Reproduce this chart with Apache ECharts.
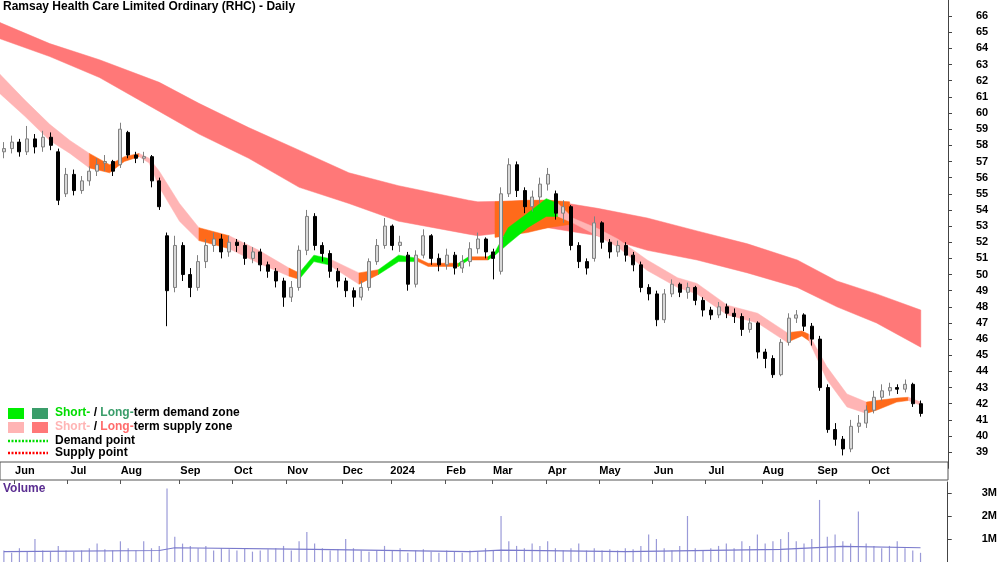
<!DOCTYPE html>
<html>
<head>
<meta charset="utf-8">
<script src="https://cdn.jsdelivr.net/npm/echarts@6/dist/echarts.min.js"></script>
<style>html,body{margin:0;padding:0;background:#fff}#main{width:1000px;height:562px}</style>
</head>
<body>
<div id="main"></div>
<script>
// daily candles sampled, [open, close, low, high]
var candles = [
 [57.6,57.8,57.2,58.2],[57.8,58.2,57.5,58.6],[58.2,57.6,57.3,58.4],[57.6,58.4,57.4,59.2],[58.4,57.9,57.5,58.7],
 [57.9,58.5,57.6,58.9],[58.5,58.0,57.7,58.8],[57.6,54.6,54.3,57.8],[55.0,56.2,54.8,56.6],[56.2,55.2,54.9,56.5],
 [55.2,55.8,55.0,56.1],[55.8,56.4,55.5,56.7],[56.4,56.8,56.1,57.2],[56.9,57.0,56.4,57.4],[57.0,56.4,56.1,57.1],
 [56.8,59.0,56.6,59.4],[58.8,57.4,57.2,58.9],[57.4,57.2,56.9,57.6],[57.2,57.3,56.9,57.6],[57.3,55.8,55.4,57.4],
 [55.8,54.2,54.0,56.0],[52.4,49.0,46.8,52.6],[49.2,51.8,48.9,52.4],[51.8,50.0,49.6,52.0],[50.0,49.2,48.6,50.4],
 [49.2,50.8,49.0,51.2],[50.8,51.8,50.4,52.2],[51.8,52.2,51.4,52.6],[52.2,51.4,51.0,52.5],[51.4,52.0,51.1,52.4],
 [52.0,51.8,51.4,52.2],[51.8,51.0,50.6,52.0],[51.0,51.4,50.7,51.7],[51.4,50.6,50.2,51.6],[50.6,50.2,49.8,50.8],
 [50.2,49.6,49.2,50.4],[49.6,48.6,48.0,49.8],[48.6,49.2,48.3,49.6],[49.2,51.5,49.0,51.8],[51.5,53.6,51.2,54.0],
 [53.6,51.8,51.5,53.8],[51.8,51.3,50.8,52.0],[51.3,50.2,49.8,51.5],[50.2,49.6,49.2,50.4],[49.6,49.0,48.6,49.8],
 [49.0,48.6,48.0,49.2],[48.6,49.2,48.4,49.6],[49.2,50.8,49.0,51.0],[50.8,51.8,50.6,52.2],[51.8,53.0,51.6,53.5],
 [53.0,51.8,51.5,53.1],[51.8,52.0,51.4,52.4],[51.2,49.4,49.0,51.4],[49.4,51.2,49.2,51.5],[51.2,52.4,51.0,52.8],
 [52.4,51.0,50.6,52.5],[51.0,50.6,50.2,51.3],[50.6,51.2,50.3,51.6],[51.2,50.4,50.0,51.4],[50.4,50.8,50.1,51.2],
 [50.8,51.6,50.5,52.0],[51.6,52.2,51.3,52.6],[52.2,51.4,51.0,52.3],[51.4,51.0,49.7,51.6],[50.2,55.0,50.0,55.4],
 [55.0,56.8,54.8,57.2],[56.8,55.2,54.8,57.0],[55.2,54.2,53.8,55.4],[54.2,54.8,53.9,55.2],[54.8,55.6,54.4,56.0],
 [55.6,56.2,55.2,56.6],[55.0,53.8,53.4,55.2],[53.8,54.2,53.2,54.6],[54.2,51.8,51.5,54.3],[51.8,50.8,50.4,52.0],
 [50.8,50.4,50.0,51.0],[51.0,53.2,50.8,53.6],[53.2,52.0,51.6,53.3],[52.0,51.4,51.0,52.2],[51.4,51.8,51.1,52.1],
 [51.8,51.2,50.8,52.0],[51.2,50.6,50.2,51.4],[50.6,49.2,48.9,50.8],[49.2,48.8,48.4,49.4],[48.8,47.2,46.8,49.0],
 [47.2,48.8,47.0,49.1],[48.8,49.4,48.6,49.7],[49.4,48.9,48.6,49.5],[48.9,49.2,48.5,49.5],[49.2,48.4,48.1,49.3],
 [48.4,47.8,47.4,48.6],[47.8,47.5,47.2,48.0],[47.5,48.0,47.3,48.3],[48.0,47.6,47.3,48.2],[47.6,47.4,47.0,47.9],
 [47.4,46.6,46.2,47.6],[46.6,47.0,46.4,47.3],[47.0,45.2,44.8,47.1],[45.2,44.8,44.2,45.4],[44.8,43.8,43.6,45.0],
 [43.8,45.8,43.7,46.0],[45.8,47.3,45.6,47.6],[47.3,47.5,47.0,47.8],[47.5,46.8,46.5,47.6],[46.8,46.0,45.6,47.0],
 [46.0,43.0,42.8,46.2],[43.0,40.4,40.2,43.2],[40.4,39.8,39.4,40.8],[39.8,39.2,38.8,40.0],[39.2,40.6,39.0,41.0],
 [40.6,40.8,40.2,41.3],[40.8,41.6,40.5,41.9],[41.6,42.4,41.4,42.8],[42.4,42.8,42.2,43.2],[42.8,43.0,42.5,43.3],
 [43.0,42.9,42.6,43.2],[42.9,43.2,42.7,43.5],[43.2,42.0,41.8,43.3],[42.0,41.4,41.2,42.2]
];
// volume in millions, one per candle
var volumes = [
 0.5,0.4,0.6,0.45,1.0,0.5,0.45,0.7,0.5,0.45, 0.5,0.6,0.8,0.55,0.5,0.9,0.6,0.5,0.9,0.6,
 0.7,3.2,1.1,0.8,0.7,0.6,0.7,0.5,0.6,0.55, 0.5,0.6,0.45,0.5,0.55,0.6,0.7,0.5,0.9,1.3,
 0.8,0.6,0.5,0.55,1.0,0.6,0.5,0.45,0.5,0.7, 0.5,0.6,0.4,0.5,0.55,0.45,0.4,0.5,0.45,0.4,
 0.5,0.45,0.6,0.5,2.0,0.9,0.7,0.6,0.8,0.7, 0.9,0.6,0.5,0.6,0.8,0.5,0.6,0.5,0.55,0.5,
 0.6,0.55,0.7,1.2,1.0,0.6,0.5,0.7,2.0,0.6, 0.5,0.6,0.7,0.8,0.6,0.9,0.7,1.2,0.8,0.9,
 1.0,1.3,0.9,0.8,1.0,2.7,1.1,1.2,0.9,0.8, 2.2,0.8,0.7,0.6,0.7,0.9,0.6,0.5,0.4
];
var volumeAvg = [[0,0.45],[20,0.5],[22,0.62],[40,0.55],[60,0.45],[64,0.52],[80,0.45],[100,0.55],[108,0.68],[118,0.62]];

// long-term supply zone: [slot, upper, lower]
var longBand = [
 [-0.5,65.6,64.6],[5.9,64.3,63.5],[12.3,63.3,62.2],[20,61.9,60.1],[25.1,60.6,58.7],[31.5,59.1,57.2],
 [38,57.7,55.4],[44.4,56.3,54.4],[50.8,55.5,53.3],[59.8,54.6,52.5],[61,54.5,52.4],[70,54.6,52.9],
 [76.4,54.1,52.4],[82.8,53.5,51.5],[89.2,52.7,50.9],[95.7,51.9,50.1],[102.1,50.9,49.2],[107.2,49.6,48.0],
 [112.3,48.8,47.0],[118,47.8,45.5]
];
// short-term zone: [slot, upper, lower]
var shortBand = [
 [-0.5,62.4,61.2],[2.7,60.8,59.8],[5.9,59.3,58.3],[8.5,58.3,57.5],[11,57.5,56.6],[13.6,56.8,56.3],
 [15.5,57.3,57.0],[17.4,57.5,57.3],[18.7,57.2,56.9],[20,56.4,55.4],[22.6,54.4,53.3],[25.1,52.9,52.1],
 [29,52.4,51.6],[32.8,51.5,50.7],[36.7,50.4,49.9],[38,50.1,49.7],[39.9,51.2,50.8],[41.8,51.0,50.6],
 [45.7,50.1,49.4],[48.2,50.3,50.0],[50.8,51.2,50.8],[53.3,51.0,50.8],[54.6,50.7,50.5],[58.5,50.7,50.5],
 [59.8,51.1,50.9],[62.3,51.1,50.9],[63.2,51.4,51.2],[64.9,52.9,51.9],[67.4,53.8,52.9],[69.8,54.7,53.6],
 [71.3,54.4,53.6],[73.2,53.5,53.2],[76.4,52.85,52.4],[79,52.2,51.7],[82.8,50.9,50.25],[86.7,49.8,49.2],
 [89.2,49.45,48.8],[93.1,48.1,47.5],[97,47.6,47.0],[100.8,46.4,45.8],[102.7,46.5,46.2],[103.6,46.3,45.9],
 [105.9,44.3,43.5],[108.5,42.6,41.8],[111,42.1,41.4],[112.3,42.2,41.6],[114.9,42.35,42.1],[116.4,42.4,42.2],
 [118,42.1,41.9]
];
// colour state of the short-term zone: [from, to, kind]  S supply, O neutral, G demand
var shortZones = [
 [-0.5,11,'S'],[11,17.4,'O'],[17.4,25.1,'S'],[25.1,29,'O'],[29,36.7,'S'],[36.7,38,'O'],[38,41.8,'G'],
 [41.8,45.7,'S'],[45.7,48.2,'O'],[48.2,53.3,'G'],[53.3,58.5,'O'],[58.5,59.8,'G'],[59.8,62.3,'O'],
 [62.3,71.3,'G'],[71.3,100.8,'S'],[100.8,103.6,'O'],[103.6,111,'S'],[111,116.4,'O'],[116.4,118,'S']
];
var overlapBand = [[63.2,54.5,52.3],[67.4,54.6,52.6],[70,54.6,52.9],[72.8,54.5,53.1]];

var months = ['Jun','Jul','Aug','Sep','Oct','Nov','Dec','2024','Feb','Mar','Apr','May','Jun','Jul','Aug','Sep','Oct'];
var monthTicks = [1.3,8.2,15,22.6,29.4,36.4,43.5,49.9,56.8,62.8,69.8,76.6,83.5,90.3,97.6,104.6,111.4];
var priceTicks = [39,40,41,42,43,44,45,46,47,48,49,50,51,52,53,54,55,56,57,58,59,60,61,62,63,64,65,66];

var SLOTS = 122;
var cats = [];
for (var i = 0; i < SLOTS; i++) cats.push(i);

var colors = {S:'#ffb4b4', O:'#ff6a1a', G:'#00ee00', L:'#ff7878'};

// a filled ribbon between upper and lower edges, drawn as one polygon
function bandSeries(pts, color, z) {
  return {
    type:'custom', xAxisIndex:1, yAxisIndex:0, z:z, silent:true,
    data:pts,
    encode:{x:0, y:[1,2]},
    renderItem:function(params, api){
      if (params.dataIndex !== 0) return;
      var top = pts.map(function(p){return api.coord([p[0], p[1]]);});
      var bot = pts.map(function(p){return api.coord([p[0], p[2]]);}).reverse();
      return {
        type:'group',
        children:[
          {type:'polygon', shape:{points:top.concat(bot)}, style:{fill:color, stroke:color, lineWidth:0.5}}
        ]
      };
    }
  };
}

var series = [];
series.push(bandSeries(longBand, colors.L, 1));
series.push(bandSeries(overlapBand, colors.O, 2));
shortZones.forEach(function(zn){
  var pts = shortBand.filter(function(p){return p[0] >= zn[0]-1e-6 && p[0] <= zn[1]+1e-6;});
  series.push(bandSeries(pts, colors[zn[2]], 3));
});
series.push({
  type:'candlestick', xAxisIndex:0, yAxisIndex:0, barWidth:3.5, z:5,
  itemStyle:{color:'#d8d8d8', color0:'#000', borderColor:'#808080', borderColor0:'#000', borderWidth:1},
  data:candles
});
series.push({
  type:'bar', xAxisIndex:3, yAxisIndex:2, barWidth:1.2, data:volumes,
  itemStyle:{color:'#9a9ad8'}
});
series.push({
  type:'line', xAxisIndex:4, yAxisIndex:2, symbol:'none', data:volumeAvg,
  lineStyle:{color:'#7a7acc', width:1.2}
});

var chart = echarts.init(document.getElementById('main'));
var txt = {fontFamily:'Liberation Sans, Arial', fontWeight:'bold', fontSize:12};
chart.setOption({
  animation:false,
  grid:[
    {left:0, right:52, top:-1.19, height:469.5},
    {left:0, right:52, top:462, height:18, show:true, borderColor:'#555', borderWidth:1, backgroundColor:'transparent'},
    {left:0, right:52, top:482, height:80}
  ],
  xAxis:[
    {type:'category', gridIndex:0, data:cats, show:false},
    {type:'value', gridIndex:0, min:-0.5, max:SLOTS-0.5, show:false},
    {type:'value', gridIndex:1, min:-0.5, max:SLOTS-0.5, position:'top',
      axisLine:{show:false}, splitLine:{show:false},
      axisTick:{show:true, inside:true, length:4, lineStyle:{color:'#555'}, customValues:monthTicks},
      axisLabel:{show:true, inside:true, margin:3, color:'#000', fontFamily:'Liberation Sans, Arial', fontWeight:'bold', fontSize:11,
        customValues:monthTicks.map(function(t){return t+1.4;}),
        formatter:function(v){
          for (var j=0;j<monthTicks.length;j++) if (Math.abs(monthTicks[j]+1.4-v)<0.01) return months[j];
          return '';
        }}
    },
    {type:'category', gridIndex:2, data:cats, show:false},
    {type:'value', gridIndex:2, min:-0.5, max:SLOTS-0.5, show:false}
  ],
  yAxis:[
    {type:'value', gridIndex:0, position:'right', min:38, max:67, interval:1,
      axisLine:{show:true, onZero:false, lineStyle:{color:'#444'}}, splitLine:{show:false},
      axisTick:{show:true, length:4, lineStyle:{color:'#444'}, customValues:priceTicks},
      axisLabel:{color:'#000', fontSize:11, fontWeight:'bold', fontFamily:'Liberation Sans, Arial', margin:28,
        customValues:priceTicks}
    },
    {type:'value', gridIndex:1, show:false, min:0, max:1},
    {type:'value', gridIndex:2, position:'right', min:0, max:3.48,
      axisLine:{show:true, onZero:false, lineStyle:{color:'#444'}}, splitLine:{show:false},
      axisTick:{show:true, length:4, lineStyle:{color:'#444'}, customValues:[1,2,3]},
      axisLabel:{color:'#000', fontSize:11, fontWeight:'bold', fontFamily:'Liberation Sans, Arial', margin:34,
        customValues:[1,2,3], formatter:function(v){return v+'M';}}
    }
  ],
  graphic:[
    {type:'text', left:3, top:1, style:Object.assign({text:'Ramsay Health Care Limited Ordinary (RHC) - Daily', fill:'#000'}, txt)},
    {type:'text', left:3, top:483, style:Object.assign({text:'Volume', fill:'#5a2d91'}, txt)},
    {type:'rect', shape:{x:8, y:408, width:16, height:11}, style:{fill:'#00ee00'}},
    {type:'rect', shape:{x:32, y:408, width:16, height:11}, style:{fill:'#3a9d6a'}},
    {type:'rect', shape:{x:8, y:422, width:16, height:11}, style:{fill:'#ffb4b4'}},
    {type:'rect', shape:{x:32, y:422, width:16, height:11}, style:{fill:'#ff7878'}},
    {type:'line', shape:{x1:8, y1:441, x2:48, y2:441}, style:{stroke:'#00dd00', lineWidth:2.5, lineDash:[2,1.5]}},
    {type:'line', shape:{x1:8, y1:453, x2:48, y2:453}, style:{stroke:'#ff0000', lineWidth:2.5, lineDash:[2,1.5]}},
    {type:'text', left:55, top:407, style:Object.assign({
      text:'{g|Short-} / {d|Long-}term demand zone', fill:'#000',
      rich:{g:{fill:'#00dd00', fontWeight:'bold', fontSize:12}, d:{fill:'#3a9d6a', fontWeight:'bold', fontSize:12}}}, txt)},
    {type:'text', left:55, top:421, style:Object.assign({
      text:'{p|Short-} / {r|Long-}term supply zone', fill:'#000',
      rich:{p:{fill:'#ffb4b4', fontWeight:'bold', fontSize:12}, r:{fill:'#ff6b6b', fontWeight:'bold', fontSize:12}}}, txt)},
    {type:'text', left:55, top:435, style:Object.assign({text:'Demand point', fill:'#000'}, txt)},
    {type:'text', left:55, top:447, style:Object.assign({text:'Supply point', fill:'#000'}, txt)}
  ],
  series:series
});
</script>
</body>
</html>
